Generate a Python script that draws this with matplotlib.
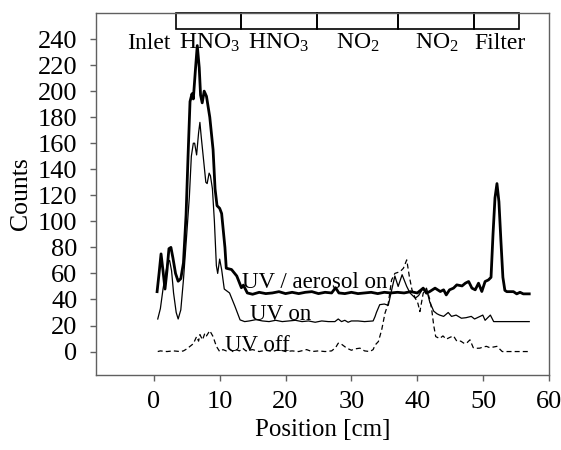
import numpy as np
import matplotlib
matplotlib.use('Agg')
import matplotlib.pyplot as plt
from matplotlib.patches import Rectangle

plt.rcParams['font.family'] = ['Liberation Serif', 'DejaVu Serif']
plt.rcParams['mathtext.fontset'] = 'custom'
plt.rcParams['mathtext.rm'] = 'Liberation Serif'
plt.rcParams['mathtext.it'] = 'Liberation Serif'

''' UV / aerosol on (thick) '''
x_aer = [0.5, 0.8, 1.1, 1.4, 1.7, 2.0, 2.3, 2.6, 2.9, 3.3, 3.7, 4.1, 4.5, 4.9, 5.2, 5.5, 5.8,
         6.0, 6.3, 6.6, 6.9, 7.1, 7.35, 7.65, 8.0, 8.5, 9.0, 9.3, 9.6, 10.0, 10.3, 10.8, 11.0,
         11.8, 12.6, 13.3, 13.6, 13.9, 14.2, 15, 16, 17, 18, 19, 20, 21, 22, 23, 24, 25, 26, 27,
         27.6, 28.1, 29, 30, 31, 32, 33, 34, 35, 36, 37, 38, 39, 40, 40.5, 40.9, 41.4, 41.9,
         42.7, 43.5, 44.0, 44.4, 44.9, 45.5, 46.0, 46.8, 47.3, 47.8, 48.3, 48.8, 49.3, 49.8,
         50.3, 50.8, 51.2, 51.5, 51.8, 52.1, 52.4, 52.7, 53.0, 53.3, 53.6, 54.6, 55.1, 55.6,
         56.1, 57.0]
y_aer = [46, 60, 75, 62, 48, 62, 79, 80, 72, 60, 54, 56, 68, 105, 150, 192, 198,
         194, 215, 235, 218, 197, 191, 200, 196, 180, 155, 125, 112, 110, 106, 80, 64,
         63, 58, 49, 51, 48, 45, 44, 45.5, 44.5, 45, 46, 44.5, 45.5, 44.5, 45.5, 46, 44.5, 45.5, 45,
         49, 45, 44.5, 45.5, 44.5, 45, 45.5, 44.5, 45.5, 45, 45.5, 45, 46, 45, 47, 48.7, 44.8, 46.1,
         48.7, 46.1, 47.4, 43.5, 47.4, 48.7, 51.2, 50.4, 52.5, 53.8, 48.7, 47.4, 52.5, 46.1,
         53.8, 55, 57, 90, 118, 129, 115, 85, 57, 47, 46, 46, 44.3, 45.5,
         44.3, 44.3]

''' UV on (thin) '''
x_on = [0.6, 1.0, 1.4, 1.8, 2.1, 2.4, 2.7, 3.0, 3.4, 3.7, 4.1, 4.5, 5.0, 5.4, 5.7, 6.0, 6.2,
        6.5, 6.8, 7.0, 7.2, 7.5, 7.9, 8.1, 8.4, 8.6, 8.9, 9.2, 9.5, 9.7, 10.0, 10.3, 10.7,
        11.5, 12.3, 13.1, 13.8, 14.5, 15.5, 16.5, 17.5, 18.5, 19.5, 20.5, 21.5, 22.5, 23.5,
        24.5, 25.5, 26.5, 27.5, 28.0, 28.5, 29.0, 29.5, 30.0, 31, 32, 33.3, 33.6, 33.8, 34.3,
        35.0, 35.6, 36.1, 36.6, 37.1, 37.7, 38.4, 38.9, 39.7, 40.2, 40.9, 41.5, 41.9, 42.5,
        43.0, 43.4, 44.0, 44.7, 45.2, 45.9, 46.7, 47.4, 48.2, 48.7, 49.95, 50.3, 51.1, 51.6, 57.0]
y_on = [25, 33, 48, 60, 68, 70, 62, 45, 30, 25, 32, 55, 90, 119, 150, 160, 160,
        151, 168, 176, 165, 150, 130, 129, 137, 135, 125, 100, 66, 60, 71, 63, 48,
        45, 35, 24.3, 23, 23.5, 24.5, 23.5, 23, 24, 23, 23.5, 24, 23, 23.5,
        22.5, 23.5, 23, 23, 25, 23, 24, 22.5, 23.5, 23.5, 23, 23.5, 27, 30, 36,
        36.5, 35.5, 47, 58, 50, 59, 50, 45, 41, 43, 48.7, 46, 38, 31,
        29, 28, 27, 30, 27, 28, 25.6, 26, 27, 25, 28, 24, 28, 23, 23]

''' UV off (dashed) '''
x_off = [0.6, 1, 2, 3, 4, 4.5, 5.0, 5.5, 6.0, 6.5, 6.8, 7.0, 7.4, 7.75, 8.0, 8.5, 9.0, 9.5,
         10.0, 10.5, 11, 11.5, 12, 12.5, 13, 13.5, 14, 15, 16, 17, 18, 19, 20, 21, 22, 23.2,
         24, 25, 26, 27, 27.6, 28.0, 28.3, 29.3, 30, 30.5, 31.3, 32, 32.8, 33.3, 33.6, 34.1,
         34.6, 35.1, 35.6, 36.1, 36.6, 37.4, 37.9, 38.4, 38.8, 39.2, 39.7, 40.1, 40.4, 40.9,
         41.4, 41.9, 42.2, 42.5, 42.8, 43.4, 43.9, 44.4, 45.0, 45.5, 46.0, 46.6, 47.2, 47.6,
         48.0, 48.5, 49.0, 49.5, 50.0, 50.5, 51.0, 51.6, 52.1, 52.9, 57.0]
y_off = [0, 0.5, 0, 0.5, 0, 0.5, 2, 4, 6, 11.5, 8, 13, 9, 14, 12, 16, 11.5, 4,
         0, 1.5, 0.5, 2, 0, 1.5, 0.5, 2.5, 0.5, 1.5, 0, 1, 0, 1.5, 0, 0.5, 0, 1.5,
         0, 0.5, 0, 0.5, 3, 6.4, 6.4, 2.6, 1, 2, 2.6, 0.5, 0, 1.5, 5, 7.7,
         16.7, 29.5, 37, 55, 60, 61.4, 64, 70.4, 57.6, 47.4, 41, 37, 30.7, 44.8,
         48.7, 40, 32, 20, 11.5, 10, 12, 9.5, 11, 12, 8, 8, 6, 7,
         9, 3, 2.5, 2.6, 3.5, 4, 3, 3.5, 4, 0, 0]

''' column sections at the top '''
sec_edges = [3.3, 13.2, 24.8, 37.1, 48.6, 55.5]
sec_labels = ['Inlet', r'HNO$_3$', r'HNO$_3$', r'NO$_2$', r'NO$_2$', 'Filter']
sec_label_x = [-0.7, 8.5, 19.0, 31.0, 43.0, 52.6]

fig = plt.figure(figsize=(5.61, 4.5), dpi=100)
ax = fig.add_axes([0.172, 0.1667, 0.8066, 0.8044])

ax.plot(x_aer, y_aer, 'k-', linewidth=2.0)
ax.plot(x_on, y_on, 'k-', linewidth=0.9)
ax.plot(x_off, y_off, 'k--', linewidth=0.9, dashes=(4, 2.5))

ax.text(13.4, 48.7, 'UV / aerosol on', fontsize=16.5)
ax.text(14.6, 24.3, 'UV on', fontsize=16.5)
ax.text(10.8, 0.8, 'UV off', fontsize=16.5)

for i in range(len(sec_edges) - 1):
    ax.add_patch(Rectangle((sec_edges[i], 247.7), sec_edges[i + 1] - sec_edges[i], 12.3,
                           fill=False, edgecolor='k', linewidth=1.2, clip_on=False))
for lx, lab in zip(sec_label_x, sec_labels):
    ax.text(lx, 232.5, lab, fontsize=17, ha='center', va='baseline')

ax.set_xlim(-8.7, 60)
ax.set_ylim(-18, 260)
ax.set_xticks([0, 10, 20, 30, 40, 50, 60])
ax.set_yticks(np.arange(0, 241, 20))
ax.tick_params(direction='out', length=4.3, width=1, color='#606060', labelsize=19)
ax.tick_params(axis='y', pad=9.5)
ax.tick_params(axis='x', pad=7.5)
for s in ax.spines.values():
    s.set_color('#606060')
    s.set_linewidth(1)

ax.set_xlabel('Position [cm]', fontsize=18, labelpad=4)
ax.set_ylabel('Counts', fontsize=18.5, labelpad=4)

fig.savefig('out.png', dpi=100)
